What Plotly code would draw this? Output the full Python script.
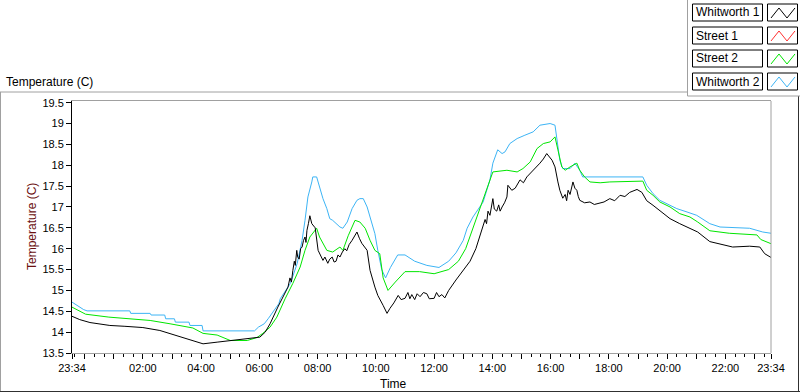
import plotly.graph_objects as go
from datetime import datetime, timedelta

# ---------------- data ----------------
w1_times = ["23:34","23:50","00:11","00:32","00:52","01:23","02:00","02:35","03:10","03:43",
            "04:04","04:33","05:06","05:34","06:01","06:12","06:22","06:38","06:49","06:59",
            "07:03","07:06","07:09","07:12","07:14","07:17","07:19","07:22","07:25","07:28",
            "07:31","07:34","07:36","07:38","07:41","07:44","07:48","07:55","08:01","08:05",
            "08:11","08:15","08:21","08:25","08:30","08:34","08:38","08:42","08:46","08:51",
            "08:56","09:00","09:05","09:11","09:16","09:21","09:26","09:31","09:42","09:48",
            "09:58","10:04","10:15","10:23","10:29","10:37","10:46","10:52","11:00","11:06",
            "11:10","11:14","11:20","11:25","11:31","11:38","11:45","11:50","12:00","12:05",
            "12:10","12:16","12:22","12:30","12:45","12:59","13:14","13:26","13:41","13:45",
            "13:48","13:51","13:55","13:58","14:01","14:04","14:09","14:13","14:16","14:20",
            "14:25","14:30","14:32","14:40","14:47","14:57","15:04","15:11","15:18","15:24",
            "15:31","15:38","15:45","15:52","16:03","16:09","16:15","16:19","16:25","16:30",
            "16:33","16:36","16:40","16:43","16:46","16:50","16:54","16:57","17:00","17:10",
            "17:21","17:30","17:38","17:50","18:02","18:12","18:23","18:33","18:43","18:58",
            "19:08","19:18","19:31","19:45","20:06","20:26","20:47","21:03","21:28","21:49",
            "22:15","22:50","23:11","23:21","23:34"]
w1_vals = [14.38,14.30,14.23,14.20,14.16,14.14,14.11,14.04,13.92,13.79,
           13.72,13.76,13.80,13.83,13.88,14.00,14.20,14.60,14.85,15.08,
           15.30,15.20,15.48,15.70,15.60,15.96,15.80,15.75,16.00,16.04,
           16.20,16.28,16.15,16.44,16.60,16.79,16.60,16.50,15.96,15.85,
           15.72,15.80,15.65,15.75,15.80,15.68,15.70,15.85,15.80,15.92,
           16.00,15.95,16.10,16.20,16.30,16.40,16.25,16.13,15.96,15.48,
           15.08,14.88,14.64,14.45,14.57,14.70,14.88,14.78,14.81,14.95,
           14.80,14.90,14.78,14.92,14.85,14.95,14.92,14.80,14.81,14.95,
           14.85,14.90,14.82,15.00,15.25,15.48,15.70,16.00,16.52,16.70,
           16.60,16.90,16.80,17.05,17.20,16.95,16.90,17.05,16.90,17.00,
           17.10,17.24,17.52,17.40,17.45,17.65,17.58,17.72,17.80,17.88,
           17.95,18.05,18.15,18.28,18.12,17.96,17.60,17.40,17.21,17.30,
           17.15,17.40,17.30,17.50,17.60,17.45,17.40,17.25,17.16,17.10,
           17.12,17.06,17.08,17.12,17.20,17.15,17.28,17.25,17.35,17.42,
           17.35,17.15,17.04,16.92,16.72,16.60,16.49,16.40,16.17,16.12,
           16.04,16.06,16.04,15.88,15.79]

s2_times = ["23:34","23:48","00:02","00:50","01:25","02:15","02:56","03:43","04:04","04:33",
            "05:00","05:35","05:55","06:07","06:22","06:36","06:53","07:09","07:24","07:34",
            "07:44","07:58","08:04","08:11","08:19","08:31","08:46","08:52","09:03","09:17",
            "09:27","09:38","09:48","09:58","10:08","10:15","10:25","10:40","11:00","11:30",
            "12:00","12:30","12:50","13:05","13:22","13:45","14:01","14:30","14:51","15:03",
            "15:18","15:32","15:45","15:59","16:09","16:15","16:23","16:30","16:40","16:54",
            "17:00","17:10","17:21","17:42","18:02","19:10","19:18","19:31","19:45","20:06",
            "20:26","20:47","21:03","21:28","22:08","23:05","23:13","23:34"]
s2_vals = [14.60,14.51,14.43,14.36,14.32,14.28,14.20,14.10,13.97,13.93,
           13.80,13.80,13.87,13.97,14.12,14.36,14.80,15.17,15.56,15.96,
           16.28,16.49,16.28,16.12,15.96,15.92,16.04,15.96,16.31,16.68,
           16.64,16.49,16.20,15.96,15.88,15.30,15.00,15.20,15.45,15.45,
           15.40,15.50,15.70,16.00,16.56,17.30,17.84,17.88,17.84,17.92,
           18.08,18.40,18.52,18.56,18.68,18.37,17.96,17.88,17.96,18.05,
           17.88,17.72,17.60,17.58,17.60,17.62,17.40,17.28,17.12,17.00,
           16.84,16.76,16.64,16.43,16.37,16.33,16.22,16.12]

w2_times = ["23:34","23:44","23:58","00:05","01:33","01:35","02:15","02:17","02:45","02:47",
            "03:05","03:07","03:35","03:37","04:02","04:04","05:50","05:58","06:10","06:18",
            "06:30","06:40","06:43","07:04","07:18","07:28","07:34","07:40","07:48","07:50",
            "07:58","08:04","08:11","08:19","08:25","08:31","08:46","08:52","09:01","09:11",
            "09:21","09:27","09:34","09:42","09:48","09:58","10:04","10:12","10:20","10:30",
            "10:45","11:00","11:20","11:45","12:10","12:30","12:45","13:00","13:08","13:20",
            "13:41","13:55","14:01","14:11","14:20","14:26","14:36","14:51","15:07","15:24",
            "15:38","15:59","16:09","16:15","16:19","16:25","16:40","16:50","17:00","17:06",
            "17:35","18:00","19:10","19:18","19:31","19:45","20:00","20:20","20:41","21:01",
            "21:28","21:49","22:50","23:17","23:34"]
w2_vals = [14.72,14.64,14.54,14.51,14.51,14.45,14.45,14.41,14.41,14.32,
           14.32,14.24,14.24,14.16,14.16,14.03,14.03,14.12,14.20,14.32,
           14.52,14.68,14.80,15.17,15.65,16.20,16.68,17.24,17.60,17.72,
           17.72,17.45,17.20,16.96,16.72,16.68,16.52,16.49,16.64,16.96,
           17.16,17.20,17.20,17.00,16.76,16.36,15.96,15.50,15.30,15.55,
           15.85,15.85,15.70,15.60,15.55,15.70,15.90,16.20,16.49,16.76,
           17.12,17.65,18.05,18.37,18.28,18.32,18.52,18.64,18.72,18.80,
           18.96,19.00,18.96,18.52,18.12,17.92,17.92,18.05,17.88,17.72,
           17.72,17.72,17.72,17.52,17.32,17.16,17.08,16.96,16.88,16.80,
           16.60,16.52,16.49,16.40,16.37]

series_names = ["Whitworth 1", "Street 1", "Street 2", "Whitworth 2"]
series_colors = ["#000000", "#ff3030", "#00e600", "#3cb4f5"]

y_ticks = [13.5, 14, 14.5, 15, 15.5, 16, 16.5, 17, 17.5, 18, 18.5, 19, 19.5]
y_ticklabels = ["13.5", "14", "14.5", "15", "15.5", "16", "16.5", "17", "17.5", "18", "18.5", "19", "19.5"]
x_tick_hours = ["23:34","00:00","01:00","02:00","03:00","04:00","05:00","06:00","07:00","08:00",
                "09:00","10:00","11:00","12:00","13:00","14:00","15:00","16:00","17:00","18:00",
                "19:00","20:00","21:00","22:00","23:00","23:34"]
x_tick_labels = ["23:34","","","02:00","","04:00","","06:00","","08:00",
                 "","10:00","","12:00","","14:00","","16:00","","18:00",
                 "","20:00","","22:00","","23:34"]

# ---------------- helpers ----------------
BASE = datetime(2014, 1, 1)

def to_dt(times):
    out = []
    day = 0
    prev = None
    for t in times:
        h, m = map(int, t.split(":"))
        cur = h * 60 + m
        if prev is not None and cur < prev:
            day += 1
        prev = cur
        out.append(BASE + timedelta(days=day, hours=h, minutes=m))
    return out

W, H = 800, 392
L, R, T, B = 72, 771, 101, 353
PW, PH = R - L, B - T

def px(x):
    return (x - L) / PW

def py(y):
    return (B - y) / PH

fig = go.Figure()
for times, vals, name, color in [
    (w2_times, w2_vals, series_names[3], series_colors[3]),
    (s2_times, s2_vals, series_names[2], series_colors[2]),
    (w1_times, w1_vals, series_names[0], series_colors[0]),
]:
    fig.add_trace(go.Scatter(x=to_dt(times), y=vals, mode="lines", name=name,
                             line=dict(color=color, width=1), showlegend=False,
                             hoverinfo="skip"))

xt = to_dt(x_tick_hours)
x_start, x_end = xt[0], xt[-1]

shapes = []
annotations = []
grey = "#a0a0a0"

# outer frame lines
shapes.append(dict(type="line", xref="paper", yref="paper", x0=px(0), x1=px(688), y0=py(92), y1=py(92), line=dict(color=grey, width=1)))
shapes.append(dict(type="line", xref="paper", yref="paper", x0=px(0.5), x1=px(0.5), y0=py(92), y1=py(392), line=dict(color=grey, width=1)))
shapes.append(dict(type="line", xref="paper", yref="paper", x0=px(0), x1=px(800), y0=py(391.5), y1=py(391.5), line=dict(color="#303030", width=1)))
shapes.append(dict(type="line", xref="paper", yref="paper", x0=px(798.5), x1=px(798.5), y0=py(96), y1=py(392), line=dict(color="#303030", width=1)))
shapes.append(dict(type="line", xref="paper", yref="paper", x0=px(687.5), x1=px(687.5), y0=py(0), y1=py(96), line=dict(color=grey, width=1)))
shapes.append(dict(type="line", xref="paper", yref="paper", x0=px(687.5), x1=px(800), y0=py(96), y1=py(96), line=dict(color=grey, width=1)))
# right plot border
shapes.append(dict(type="line", xref="paper", yref="paper", x0=1, x1=1, y0=0, y1=1, line=dict(color=grey, width=1)))

# legend
leg_tops = [4, 27, 50, 73]
for name, color, top in zip(series_names, series_colors, leg_tops):
    bot = top + 17
    shapes.append(dict(type="rect", xref="paper", yref="paper", x0=px(692.5), x1=px(762.5), y0=py(bot), y1=py(top),
                       line=dict(color="#000000", width=1), fillcolor="white"))
    shapes.append(dict(type="rect", xref="paper", yref="paper", x0=px(767.5), x1=px(797.5), y0=py(bot), y1=py(top),
                       line=dict(color="#000000", width=1), fillcolor="white"))
    pts = [(771, bot - 3), (779, top + 4), (787, bot - 3), (795, top + 4)]
    path = "M " + " L ".join(f"{px(a):.5f},{py(b):.5f}" for a, b in pts)
    shapes.append(dict(type="path", xref="paper", yref="paper", path=path, line=dict(color=color, width=1)))
    annotations.append(dict(xref="paper", yref="paper", x=px(694), y=py((top + bot) / 2), text=name,
                            showarrow=False, xanchor="left", yanchor="middle",
                            font=dict(family="Liberation Sans", size=12, color="#000000")))

annotations.append(dict(xref="paper", yref="paper", x=px(4), y=py(82), text="Temperature (C)", showarrow=False,
                        xanchor="left", yanchor="middle", font=dict(family="Liberation Sans", size=12, color="#000000")))
annotations.append(dict(xref="paper", yref="paper", x=px(32), y=py(227), text="Temperature (C)", showarrow=False,
                        textangle=-90, xanchor="center", yanchor="middle",
                        font=dict(family="Liberation Sans", size=12, color="#6b1010")))
annotations.append(dict(xref="paper", yref="paper", x=px(393), y=py(384), text="Time", showarrow=False,
                        xanchor="center", yanchor="middle", font=dict(family="Liberation Sans", size=12, color="#000000")))

fig.update_layout(
    width=W, height=H,
    margin=dict(l=L, r=W - R, t=T, b=H - B, pad=0),
    paper_bgcolor="white", plot_bgcolor="white",
    shapes=shapes, annotations=annotations,
    font=dict(family="Liberation Sans", size=11, color="#000000"),
    xaxis=dict(range=[x_start, x_end], tickmode="array", tickvals=xt, ticktext=x_tick_labels,
               ticks="outside", ticklen=5, tickcolor="#000000", showgrid=False, zeroline=False,
               showline=True, linecolor=grey, mirror=True,
               minor=dict(dtick=20 * 60 * 1000, tick0="2014-01-01 00:00", ticks="outside", ticklen=3,
                          tickcolor="#000000", showgrid=False),
               tickfont=dict(family="Liberation Sans", size=11)),
    yaxis=dict(range=[13.5, 19.54], tickmode="array", tickvals=y_ticks, ticktext=y_ticklabels,
               ticks="outside", ticklen=5, tickcolor="#000000", showgrid=False, zeroline=False,
               showline=True, linecolor="#000000", mirror=False,
               tickfont=dict(family="Liberation Sans", size=11)),
)

fig.write_html("out.html", config={"displayModeBar": False},
               post_script="document.body.style.margin='0';document.body.style.overflow='hidden';")
